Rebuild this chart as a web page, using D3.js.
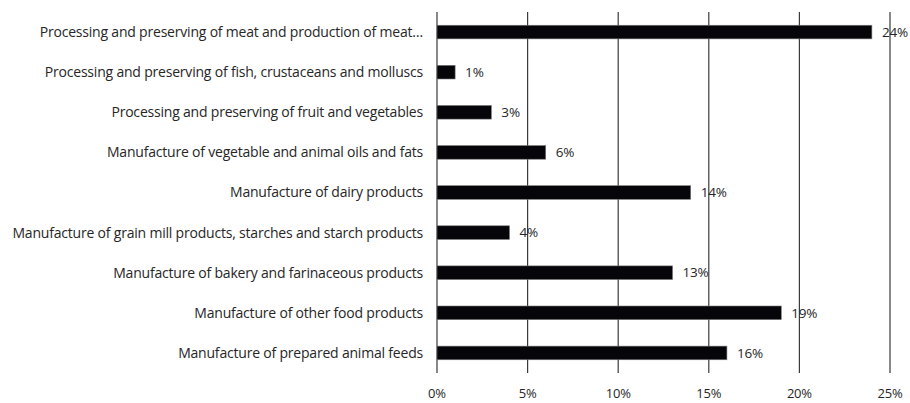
<!DOCTYPE html>
<html><head><meta charset="utf-8">
<script src="https://cdn.jsdelivr.net/npm/d3@7"></script>
<style>body{margin:0;background:#fff}svg{display:block}</style>
</head><body>
<script>
const categories = [
  "Processing and preserving of meat and production of meat\u2026",
  "Processing and preserving of fish, crustaceans and molluscs",
  "Processing and preserving of fruit and vegetables",
  "Manufacture of vegetable and animal oils and fats",
  "Manufacture of dairy products",
  "Manufacture of grain mill products, starches and starch products",
  "Manufacture of bakery and farinaceous products",
  "Manufacture of other food products",
  "Manufacture of prepared animal feeds"
];
const values = [24, 1, 3, 6, 14, 4, 13, 19, 16];
const ticks = [0, 5, 10, 15, 20, 25];

const W = 910, H = 403;
const mLeft = 437, mRight = 890, mTop = 12, mBottom = 373;
const svg = d3.select("body").append("svg").attr("width", W).attr("height", H);
const font = "Open Sans, sans-serif";
const txt = "#262626";

const x = d3.scaleLinear().domain([0, 25]).range([mLeft, mRight]);
const y = d3.scaleBand().domain(categories).range([mTop, mBottom]).paddingInner(0.66).paddingOuter(0.33);

// gridlines
svg.append("g").selectAll("line").data(ticks).join("line")
  .attr("x1", d => x(d)).attr("x2", d => x(d))
  .attr("y1", mTop).attr("y2", mBottom)
  .attr("stroke", "#3a3a3a").attr("stroke-width", 1.2);

// bars
svg.append("g").selectAll("rect").data(values).join("rect")
  .attr("x", x(0)).attr("y", (d, i) => y(categories[i]))
  .attr("width", d => x(d) - x(0)).attr("height", y.bandwidth())
  .attr("fill", "#05050a").attr("stroke", "#777").attr("stroke-width", 0.6);

// value labels
svg.append("g").selectAll("text").data(values).join("text")
  .attr("x", d => x(d) + 10).attr("y", (d, i) => y(categories[i]) + y.bandwidth() / 2)
  .attr("dy", "0.35em").attr("font-family", font).attr("font-size", 13.5)
  .attr("letter-spacing", "-0.2px").attr("fill", txt).text(d => d + "%");

// category labels
svg.append("g").selectAll("text").data(categories).join("text")
  .attr("x", mLeft - 14).attr("y", d => y(d) + y.bandwidth() / 2)
  .attr("dy", "0.35em").attr("text-anchor", "end")
  .attr("font-family", font).attr("font-size", 14).attr("letter-spacing", "-0.2px")
  .attr("fill", txt).text(d => d);

// x tick labels
svg.append("g").selectAll("text").data(ticks).join("text")
  .attr("x", d => x(d)).attr("y", 393).attr("dy", "0.35em").attr("text-anchor", "middle")
  .attr("font-family", font).attr("font-size", 13).attr("letter-spacing", "-0.2px").attr("fill", txt)
  .text(d => d + "%");
</script>
</body></html>
